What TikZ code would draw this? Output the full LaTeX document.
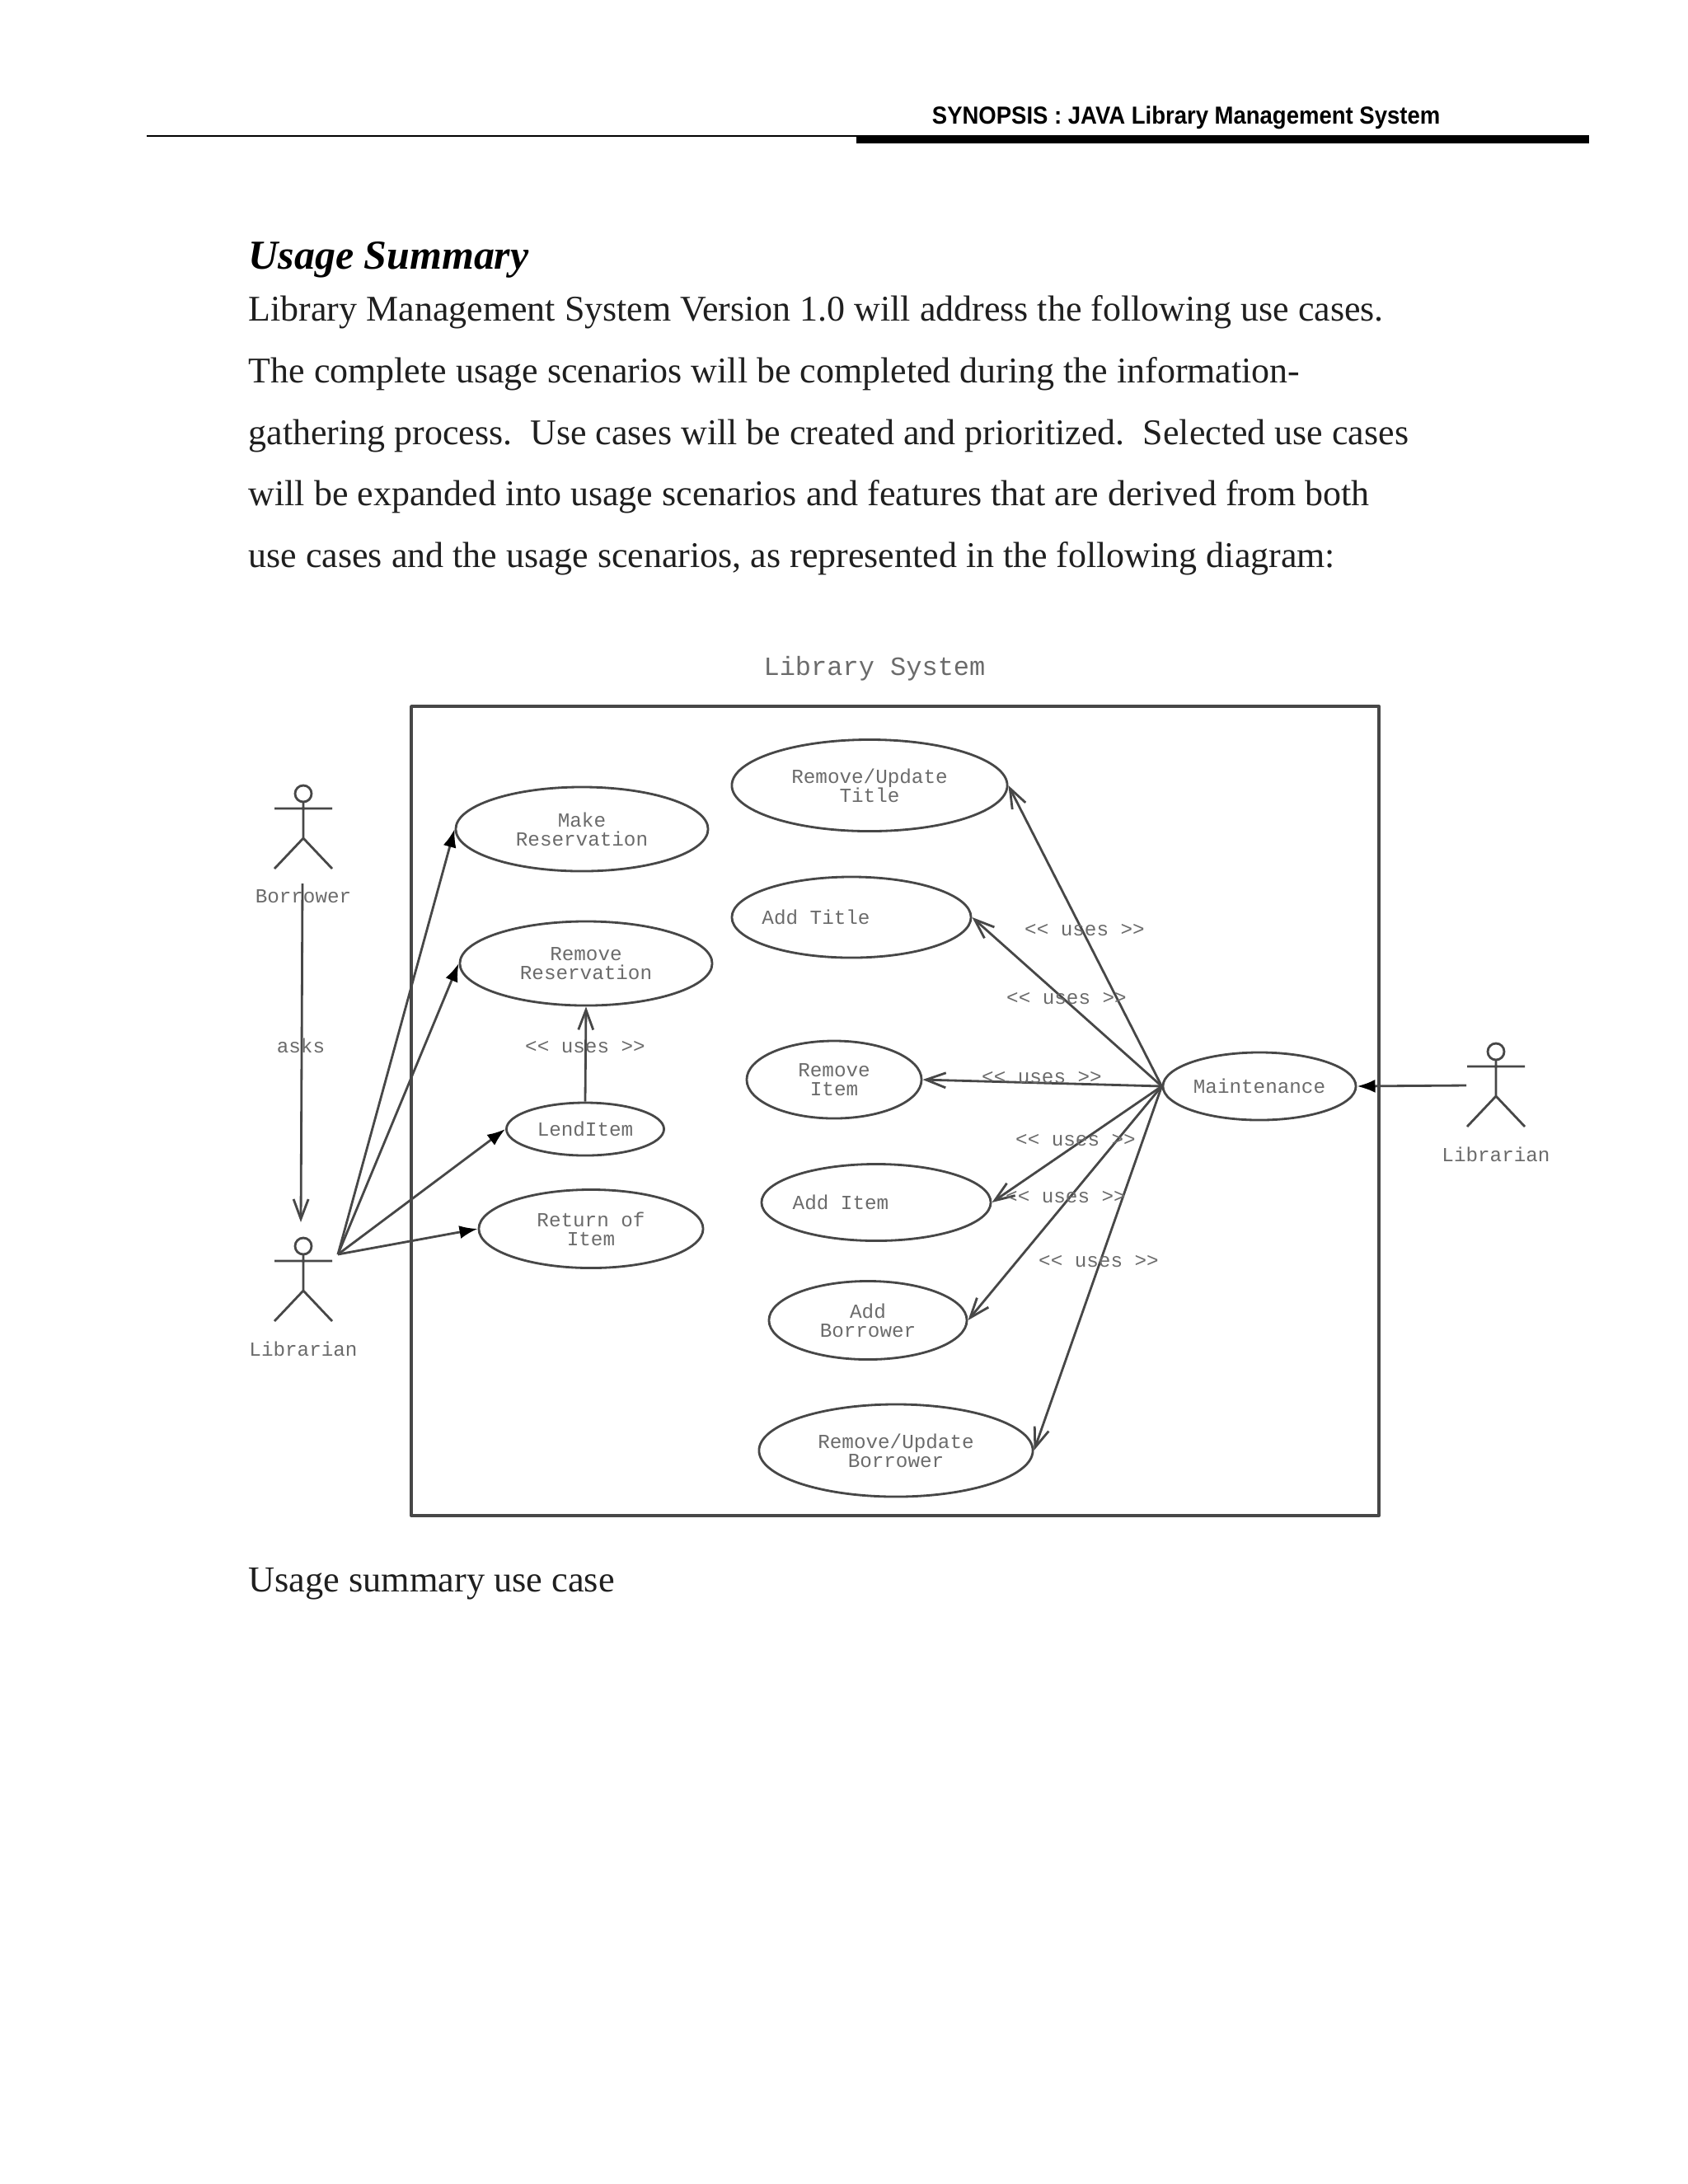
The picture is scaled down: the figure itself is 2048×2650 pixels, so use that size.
\documentclass[tikz,border=0pt]{standalone}
\usepackage{fontspec}
\setmainfont{Liberation Serif}
\newfontfamily\headfont[FakeStretch=0.92]{Liberation Sans}
\newfontfamily\monofont{Liberation Mono}
\usetikzlibrary{arrows.meta,calc,positioning,shapes.geometric}
\definecolor{linegray}{gray}{0.28}
\definecolor{textgray}{gray}{0.42}
\tikzset{
  usecase/.style={ellipse,draw=linegray,line width=0.8pt,align=center,inner sep=0pt,text=textgray,font=\monofont\fontsize{6.9}{6.6}\selectfont},
  diagtext/.style={text=textgray,inner sep=0pt,font=\monofont\fontsize{6.9}{6.6}\selectfont},
  filledarr/.style={draw=linegray,line width=0.8pt,-{Latex[length=2.2mm,width=1.6mm,black]}},
  openarr/.style={draw=linegray,line width=0.8pt,-{Straight Barb[length=2.4mm,width=1.8mm]}},
  actor/.pic={
    \draw[linegray,line width=0.8pt] (0,0) circle (0.1cm);
    \draw[linegray,line width=0.8pt] (-35,18) -- (35,18) (0,10) -- (0,54) (-35,91) -- (0,54) -- (35,91);
  }
}

\begin{document}
\begin{tikzpicture}[x=0.01cm,y=-0.01cm,line join=round]
\useasboundingbox (0,0) rectangle (2048,2650);
% --- page head and text
\node[anchor=base east,inner sep=0pt,font=\headfont\bfseries\fontsize{8.5}{10}\selectfont] (head) at (1748,150) {SYNOPSIS : JAVA Library Management System};
\draw[line width=0.8pt] (178,165) -- (1928,165);
\fill (1039,166) rectangle (1928,174);
\node[anchor=base west,inner sep=0pt,font=\bfseries\itshape\fontsize{14.2}{18}\selectfont] (title) at (301,326) {Usage Summary};
\node[anchor=north west,inner sep=0pt,align=left,text=black!88,font=\fontsize{12.5}{21.25}\selectfont] (body) at (301,358) {Library Management System Version 1.0 will address the following use cases.\\
The complete usage scenarios will be completed during the information-\\
gathering process.\ \ Use cases will be created and prioritized.\ \ Selected use cases\\
will be expanded into usage scenarios and features that are derived from both\\
use cases and the usage scenarios, as represented in the following diagram:};
\node[anchor=base west,inner sep=0pt,text=black!88,font=\fontsize{12.6}{16}\selectfont] (caption) at (301,1931) {Usage summary use case};
% --- system frame
\node[diagtext,font=\monofont\fontsize{9.1}{11}\selectfont] (system) at (1061,811) {Library System};
\draw[linegray,line width=1.1pt] (499,857) rectangle (1673,1839);
% --- actors
\pic at (368,963) {actor};
\pic at (368,1512) {actor};
\pic at (1815,1276) {actor};
\node[diagtext] (borrower) at (368,1088) {Borrower};
\node[diagtext] (librarian) at (368,1637) {Librarian};
\node[diagtext] (librarianb) at (1815,1401) {Librarian};
\coordinate (asksstart) at (367,1072);
\coordinate (asksend) at (365,1483);
\coordinate (libhub) at (410,1522);
\coordinate (libright) at (1779,1317);
% --- use cases, left column
\node[usecase,minimum width=3.06cm,minimum height=1.02cm] (makeres) at (706,1006) {Make\\Reservation};
\node[usecase,minimum width=3.06cm,minimum height=1.02cm] (rmres) at (711,1169) {Remove\\Reservation};
\node[usecase,minimum width=1.91cm,minimum height=0.64cm] (lenditem) at (710,1370) {LendItem};
\node[usecase,minimum width=2.72cm,minimum height=0.95cm] (returnitem) at (717,1491) {Return of\\Item};
% --- use cases, middle column
\node[usecase,minimum width=3.34cm,minimum height=1.11cm] (rmtitle) at (1055,953) {Remove/Update\\Title};
\node[usecase,minimum width=2.9cm,minimum height=0.98cm,label={[diagtext,xshift=-0.43cm]center:Add Title}] (addtitle) at (1033,1113) {};
\node[usecase,minimum width=2.12cm,minimum height=0.94cm] (rmitem) at (1012,1310) {Remove\\Item};
\node[usecase,minimum width=2.78cm,minimum height=0.93cm,label={[diagtext,xshift=-0.43cm]center:Add Item}] (additem) at (1063,1459) {};
\node[usecase,minimum width=2.4cm,minimum height=0.95cm] (addborrower) at (1053,1602) {Add\\Borrower};
\node[usecase,minimum width=3.32cm,minimum height=1.12cm] (rmborrower) at (1087,1760) {Remove/Update\\Borrower};
\node[usecase,minimum width=2.34cm,minimum height=0.82cm] (maint) at (1528,1318) {Maintenance};
% --- connectors
\draw[openarr] (asksstart) -- (asksend);
\draw[filledarr] (libhub) -- (makeres.west);
\draw[filledarr] (libhub) -- (rmres.west);
\draw[filledarr] (libhub) -- (lenditem.west);
\draw[filledarr] (libhub) -- (returnitem.west);
\draw[openarr] (lenditem.north) -- (rmres.south);
\draw[openarr] (maint.west) -- (rmtitle.east);
\draw[openarr] (maint.west) -- (addtitle.east);
\draw[openarr] (maint.west) -- (rmitem.east);
\draw[openarr] (maint.west) -- (additem.east);
\draw[openarr] (maint.west) -- (addborrower.east);
\draw[openarr] (maint.west) -- (rmborrower.east);
\draw[filledarr] (libright) -- (maint.east);
% --- labels on connectors
\node[diagtext] (asks) at (365,1269) {asks};
\node[diagtext] (usesa) at (710,1271) {<{}< uses >{}>};
\node[diagtext] (usesb) at (1316,1129) {<{}< uses >{}>};
\node[diagtext] (usesc) at (1294,1212) {<{}< uses >{}>};
\node[diagtext] (usesd) at (1264,1308) {<{}< uses >{}>};
\node[diagtext] (usese) at (1305,1384) {<{}< uses >{}>};
\node[diagtext] (usesf) at (1293,1453) {<{}< uses >{}>};
\node[diagtext] (usesg) at (1333,1531) {<{}< uses >{}>};
\end{tikzpicture}
\end{document}
